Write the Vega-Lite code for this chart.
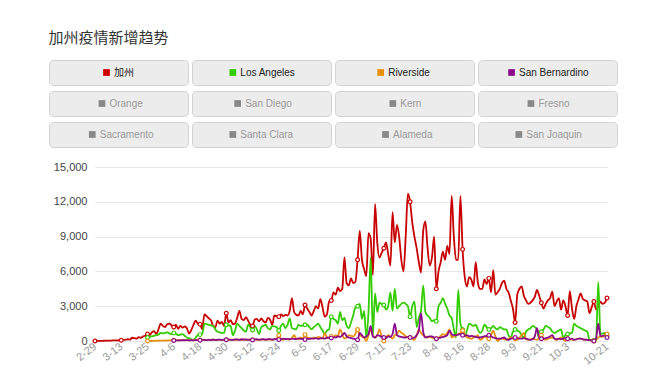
{
"$schema":"https://vega.github.io/schema/vega-lite/v6.json",
"background":"#ffffff",
"padding":{"left":48,"top":30,"right":10,"bottom":5},
"title":{"text":"加州疫情新增趋势","anchor":"start","font":"Noto Sans CJK SC","fontSize":15,"fontWeight":"normal","color":"#333333","offset":13},
"datasets":{
"buttons":[{"n":"加州"},{"n":"Los Angeles"},{"n":"Riverside"},{"n":"San Bernardino"},{"n":"Orange"},{"n":"San Diego"},{"n":"Kern"},{"n":"Fresno"},{"n":"Sacramento"},{"n":"Santa Clara"},{"n":"Alameda"},{"n":"San Joaquin"}],
"cases":[
{"d":"2-29","ca":0},{"d":"3-2","ca":5},{"d":"3-3","ca":10},{"d":"3-4","ca":15},{"d":"3-5","ca":20},{"d":"3-6","ca":25},{"d":"3-7","ca":40},{"d":"3-8","ca":30},{"d":"3-9","ca":50},{"d":"3-10","ca":60},{"d":"3-11","ca":45},{"d":"3-12","ca":70},{"d":"3-13","ca":60},{"d":"3-14","ca":90},{"d":"3-15","ca":110},{"d":"3-16","ca":150},{"d":"3-17","ca":120},{"d":"3-18","ca":280},{"d":"3-19","ca":250},{"d":"3-20","ca":200},{"d":"3-21","ca":330},{"d":"3-22","ca":280},{"d":"3-23","ca":400},{"d":"3-24","ca":450},
{"d":"3-25","ca":600,"la":300,"rv":0},{"d":"3-26","ca":500,"la":350,"rv":10},{"d":"3-27","ca":750,"la":400,"rv":20},{"d":"3-28","ca":850,"la":450,"rv":15},{"d":"3-29","ca":600,"la":500,"rv":30},{"d":"3-30","ca":1000,"la":550,"rv":20},{"d":"3-31","ca":1500,"la":700,"rv":40},{"d":"4-1","ca":1300,"la":650,"rv":30},{"d":"4-2","ca":1200,"la":700,"rv":50},{"d":"4-3","ca":1450,"la":750,"rv":40},{"d":"4-4","ca":1500,"la":650,"rv":60},{"d":"4-5","ca":1350,"la":600,"rv":50},
{"d":"4-6","ca":1200,"la":700,"rv":60,"sb":40},{"d":"4-7","ca":1400,"la":650,"rv":70,"sb":50},{"d":"4-8","ca":1050,"la":500,"rv":60,"sb":60},{"d":"4-9","ca":1300,"la":550,"rv":80,"sb":50},{"d":"4-10","ca":1150,"la":600,"rv":90,"sb":70},{"d":"4-11","ca":1250,"la":450,"rv":70,"sb":60},{"d":"4-12","ca":1100,"la":300,"rv":100,"sb":80},{"d":"4-13","ca":650,"la":250,"rv":60,"sb":50},{"d":"4-14","ca":950,"la":150,"rv":90,"sb":70},{"d":"4-15","ca":1400,"la":100,"rv":80,"sb":60},{"d":"4-16","ca":1750,"la":300,"rv":110,"sb":80},{"d":"4-17","ca":1500,"la":500,"rv":70,"sb":70},{"d":"4-18","ca":1450,"la":550,"rv":90,"sb":60},{"d":"4-19","ca":1000,"la":600,"rv":100,"sb":80},{"d":"4-20","ca":2300,"la":1500,"rv":120,"sb":90},{"d":"4-21","ca":2150,"la":1450,"rv":80,"sb":70},{"d":"4-22","ca":1950,"la":1400,"rv":110,"sb":100},{"d":"4-23","ca":1800,"la":1350,"rv":90,"sb":80},{"d":"4-24","ca":1300,"la":1300,"rv":130,"sb":110},{"d":"4-25","ca":1200,"la":1000,"rv":70,"sb":90},{"d":"4-26","ca":1750,"la":800,"rv":100,"sb":100},{"d":"4-27","ca":1500,"la":750,"rv":120,"sb":120},{"d":"4-28","ca":1650,"la":700,"rv":90,"sb":90},{"d":"4-29","ca":1300,"la":700,"rv":110,"sb":110},{"d":"4-30","ca":2400,"la":1400,"rv":100,"sb":100},
{"d":"5-1","ca":1600,"la":1350,"rv":80,"sb":130},{"d":"5-2","ca":1800,"la":1300,"rv":120,"sb":100},{"d":"5-3","ca":1450,"la":500,"rv":100,"sb":90},{"d":"5-4","ca":1500,"la":900,"rv":90,"sb":140},{"d":"5-5","ca":2000,"la":1500,"rv":130,"sb":120},{"d":"5-6","ca":2600,"la":1300,"rv":110,"sb":100},{"d":"5-7","ca":1900,"la":1100,"rv":80,"sb":150},{"d":"5-8","ca":1800,"la":900,"rv":150,"sb":120},{"d":"5-9","ca":2050,"la":800,"rv":100,"sb":130},{"d":"5-10","ca":1750,"la":1400,"rv":120,"sb":100},{"d":"5-11","ca":1400,"la":1200,"rv":90,"sb":140},{"d":"5-12","ca":1300,"la":950,"rv":110,"sb":90},{"d":"5-13","ca":1850,"la":1300,"rv":140,"sb":120},{"d":"5-14","ca":1900,"la":1000,"rv":100,"sb":150},{"d":"5-15","ca":1700,"la":600,"rv":80,"sb":110},{"d":"5-16","ca":1950,"la":1200,"rv":150,"sb":130},{"d":"5-17","ca":1700,"la":1300,"rv":120,"sb":160},{"d":"5-18","ca":1600,"la":1400,"rv":100,"sb":120},{"d":"5-19","ca":2000,"la":1100,"rv":130,"sb":140},{"d":"5-20","ca":1850,"la":1000,"rv":110,"sb":170},{"d":"5-21","ca":1400,"la":1300,"rv":90,"sb":130},{"d":"5-22","ca":2200,"la":1250,"rv":150,"sb":150},{"d":"5-23","ca":2150,"la":1200,"rv":200,"sb":180},{"d":"5-24","ca":2100,"la":900,"rv":500,"sb":120},{"d":"5-25","ca":2300,"la":1300,"rv":150,"sb":150},{"d":"5-26","ca":2150,"la":1500,"rv":100,"sb":200},{"d":"5-27","ca":2250,"la":1100,"rv":200,"sb":160},{"d":"5-28","ca":2200,"la":1400,"rv":150,"sb":180},{"d":"5-29","ca":2600,"la":1950,"rv":120,"sb":150},{"d":"5-30","ca":3700,"la":1100,"rv":250,"sb":200},{"d":"5-31","ca":2500,"la":1050,"rv":500,"sb":180},
{"d":"6-1","ca":2250,"la":1000,"rv":200,"sb":160},{"d":"6-2","ca":2200,"la":1400,"rv":150,"sb":220},{"d":"6-3","ca":2600,"la":1300,"rv":300,"sb":190},{"d":"6-4","ca":2300,"la":1350,"rv":200,"sb":170},{"d":"6-5","ca":3100,"la":1400,"rv":550,"sb":120},{"d":"6-6","ca":2800,"la":1400,"rv":300,"sb":200},{"d":"6-7","ca":2500,"la":1200,"rv":250,"sb":180},{"d":"6-8","ca":2200,"la":1000,"rv":200,"sb":220},{"d":"6-9","ca":2600,"la":1200,"rv":300,"sb":200},{"d":"6-10","ca":3000,"la":1350,"rv":250,"sb":250},{"d":"6-11","ca":2800,"la":1500,"rv":350,"sb":180},{"d":"6-12","ca":3600,"la":1200,"rv":300,"sb":220},{"d":"6-13","ca":2900,"la":900,"rv":200,"sb":250},{"d":"6-14","ca":2100,"la":600,"rv":700,"sb":200},{"d":"6-15","ca":2300,"la":900,"rv":300,"sb":280},{"d":"6-16","ca":3400,"la":1000,"rv":250,"sb":300},{"d":"6-17","ca":3500,"la":2100,"rv":400,"sb":250},{"d":"6-18","ca":4200,"la":1900,"rv":300,"sb":350},{"d":"6-19","ca":4000,"la":1800,"rv":500,"sb":300},{"d":"6-20","ca":4600,"la":1500,"rv":400,"sb":400},{"d":"6-21","ca":4300,"la":2500,"rv":1000,"sb":350},{"d":"6-22","ca":4500,"la":1800,"rv":600,"sb":500},{"d":"6-23","ca":7200,"la":2000,"rv":200,"sb":700},{"d":"6-24","ca":5000,"la":1300,"rv":300,"sb":400},{"d":"6-25","ca":4800,"la":1100,"rv":500,"sb":300},{"d":"6-26","ca":5400,"la":1600,"rv":450,"sb":250},{"d":"6-27","ca":5000,"la":2200,"rv":400,"sb":200},{"d":"6-28","ca":5100,"la":2900,"rv":600,"sb":150},{"d":"6-29","ca":7000,"la":3000,"rv":1000,"sb":100},{"d":"6-30","ca":9500,"la":3200,"rv":500,"sb":700},
{"d":"7-1","ca":7000,"la":1900,"rv":400,"sb":500},{"d":"7-2","ca":6200,"la":2600,"rv":300,"sb":300},{"d":"7-3","ca":5600,"la":300,"rv":0,"sb":400},{"d":"7-4","ca":9300,"la":2500,"rv":500,"sb":600},{"d":"7-5","ca":8800,"la":7200,"rv":1000,"sb":1300},{"d":"7-6","ca":5700,"la":500,"rv":400,"sb":400},{"d":"7-7","ca":11800,"la":4100,"rv":300,"sb":300},{"d":"7-8","ca":8500,"la":2500,"rv":500,"sb":500},{"d":"7-9","ca":7200,"la":3300,"rv":1000,"sb":450},{"d":"7-10","ca":7600,"la":3200,"rv":400,"sb":350},{"d":"7-11","ca":8000,"la":3100,"rv":0,"sb":300},{"d":"7-12","ca":8500,"la":2700,"rv":300,"sb":250},{"d":"7-13","ca":7500,"la":3000,"rv":500,"sb":400},{"d":"7-14","ca":6500,"la":4200,"rv":400,"sb":350},{"d":"7-15","ca":11100,"la":2600,"rv":200,"sb":600},{"d":"7-16","ca":8500,"la":4500,"rv":500,"sb":1500},{"d":"7-17","ca":10000,"la":2800,"rv":600,"sb":500},{"d":"7-18","ca":9000,"la":3000,"rv":900,"sb":400},{"d":"7-19","ca":7000,"la":3200,"rv":700,"sb":350},{"d":"7-20","ca":6000,"la":3300,"rv":600,"sb":300},{"d":"7-21","ca":9000,"la":3200,"rv":400,"sb":300},{"d":"7-22","ca":12700,"la":3000,"rv":350,"sb":350},{"d":"7-23","ca":12000,"la":2100,"rv":300,"sb":300},{"d":"7-24","ca":10200,"la":3000,"rv":200,"sb":250},{"d":"7-25","ca":9000,"la":3400,"rv":100,"sb":300},{"d":"7-26","ca":8000,"la":1200,"rv":500,"sb":500},{"d":"7-27","ca":6800,"la":2000,"rv":1000,"sb":900},{"d":"7-28","ca":5900,"la":2600,"rv":700,"sb":2400},{"d":"7-29","ca":9500,"la":4800,"rv":500,"sb":800},{"d":"7-30","ca":10300,"la":2500,"rv":400,"sb":300},{"d":"7-31","ca":8000,"la":2200,"rv":300,"sb":350},
{"d":"8-1","ca":6500,"la":2000,"rv":350,"sb":400},{"d":"8-2","ca":7200,"la":1700,"rv":300,"sb":400},{"d":"8-3","ca":9000,"la":1800,"rv":250,"sb":300},{"d":"8-4","ca":4500,"la":1700,"rv":200,"sb":200},{"d":"8-5","ca":6000,"la":3000,"rv":300,"sb":250},{"d":"8-6","ca":6800,"la":3300,"rv":450,"sb":300},{"d":"8-7","ca":7700,"la":3700,"rv":600,"sb":350},{"d":"8-8","ca":7000,"la":3200,"rv":500,"sb":400},{"d":"8-9","ca":8200,"la":2800,"rv":700,"sb":500},{"d":"8-10","ca":7500,"la":2200,"rv":1000,"sb":900},{"d":"8-11","ca":12500,"la":2000,"rv":300,"sb":600},{"d":"8-12","ca":9000,"la":1000,"rv":400,"sb":500},{"d":"8-13","ca":7000,"la":300,"rv":500,"sb":500},{"d":"8-14","ca":7000,"la":4400,"rv":600,"sb":550},{"d":"8-15","ca":12500,"la":1500,"rv":700,"sb":600},{"d":"8-16","ca":7900,"la":1000,"rv":900,"sb":500},{"d":"8-17","ca":5500,"la":400,"rv":600,"sb":450},{"d":"8-18","ca":4700,"la":900,"rv":300,"sb":500},{"d":"8-19","ca":5500,"la":1500,"rv":250,"sb":400},{"d":"8-20","ca":5300,"la":1400,"rv":200,"sb":450},{"d":"8-21","ca":4700,"la":1300,"rv":300,"sb":400},{"d":"8-22","ca":6800,"la":1400,"rv":400,"sb":350},{"d":"8-23","ca":5000,"la":1000,"rv":500,"sb":300},{"d":"8-24","ca":4500,"la":700,"rv":100,"sb":300},{"d":"8-25","ca":4500,"la":900,"rv":200,"sb":350},{"d":"8-26","ca":5300,"la":1400,"rv":400,"sb":400},{"d":"8-27","ca":4900,"la":1200,"rv":300,"sb":450},{"d":"8-28","ca":5400,"la":1000,"rv":200,"sb":500},{"d":"8-29","ca":4200,"la":1100,"rv":500,"sb":400},{"d":"8-30","ca":6100,"la":1300,"rv":900,"sb":300},{"d":"8-31","ca":4000,"la":1100,"rv":400,"sb":250},
{"d":"9-1","ca":4200,"la":1000,"rv":0,"sb":200},{"d":"9-2","ca":4500,"la":1200,"rv":150,"sb":200},{"d":"9-3","ca":5000,"la":1100,"rv":200,"sb":250},{"d":"9-4","ca":5200,"la":1000,"rv":150,"sb":300},{"d":"9-5","ca":4500,"la":1000,"rv":100,"sb":150},{"d":"9-6","ca":4200,"la":500,"rv":200,"sb":100},{"d":"9-7","ca":3500,"la":300,"rv":300,"sb":200},{"d":"9-8","ca":2800,"la":800,"rv":250,"sb":250},{"d":"9-9","ca":1600,"la":1000,"rv":200,"sb":300},{"d":"9-10","ca":4000,"la":900,"rv":100,"sb":250},{"d":"9-11","ca":4500,"la":800,"rv":300,"sb":200},{"d":"9-12","ca":4700,"la":500,"rv":500,"sb":200},{"d":"9-13","ca":3900,"la":300,"rv":700,"sb":250},{"d":"9-14","ca":3500,"la":800,"rv":150,"sb":200},{"d":"9-15","ca":3200,"la":1000,"rv":100,"sb":150},{"d":"9-16","ca":3300,"la":1100,"rv":150,"sb":100},{"d":"9-17","ca":3500,"la":1300,"rv":200,"sb":150},{"d":"9-18","ca":3800,"la":1200,"rv":150,"sb":400},{"d":"9-19","ca":4400,"la":1000,"rv":100,"sb":1100},{"d":"9-20","ca":3900,"la":200,"rv":300,"sb":300},{"d":"9-21","ca":3300,"la":800,"rv":500,"sb":200},{"d":"9-22","ca":2800,"la":1000,"rv":200,"sb":200},{"d":"9-23","ca":3200,"la":1300,"rv":100,"sb":250},{"d":"9-24","ca":3500,"la":1200,"rv":200,"sb":300},{"d":"9-25","ca":3700,"la":1100,"rv":250,"sb":400},{"d":"9-26","ca":4250,"la":800,"rv":300,"sb":500},{"d":"9-27","ca":3000,"la":700,"rv":200,"sb":200},{"d":"9-28","ca":3400,"la":800,"rv":100,"sb":150},{"d":"9-29","ca":3700,"la":900,"rv":200,"sb":200},{"d":"9-30","ca":2700,"la":1000,"rv":300,"sb":150},
{"d":"10-1","ca":3500,"la":300,"rv":150,"sb":200},{"d":"10-2","ca":3000,"la":500,"rv":0,"sb":250},{"d":"10-3","ca":2200,"la":600,"rv":200,"sb":200},{"d":"10-4","ca":4300,"la":650,"rv":150,"sb":150},{"d":"10-5","ca":2800,"la":700,"rv":120,"sb":200},{"d":"10-6","ca":1900,"la":1500,"rv":100,"sb":100},{"d":"10-7","ca":3000,"la":1300,"rv":150,"sb":150},{"d":"10-8","ca":3600,"la":1200,"rv":200,"sb":200},{"d":"10-9","ca":4100,"la":1100,"rv":200,"sb":200},{"d":"10-10","ca":3600,"la":1000,"rv":150,"sb":150},{"d":"10-11","ca":3500,"la":900,"rv":120,"sb":120},{"d":"10-12","ca":3400,"la":800,"rv":100,"sb":100},{"d":"10-13","ca":2400,"la":100,"rv":80,"sb":80},{"d":"10-14","ca":2900,"la":80,"rv":50,"sb":50},{"d":"10-15","ca":3400,"la":50,"rv":0,"sb":0},{"d":"10-16","ca":2700,"la":100,"rv":100,"sb":200},{"d":"10-17","ca":3000,"la":5100,"rv":300,"sb":1500},{"d":"10-18","ca":3400,"la":600,"rv":400,"sb":400},{"d":"10-19","ca":3200,"la":650,"rv":350,"sb":450},{"d":"10-20","ca":3300,"la":700,"rv":500,"sb":500},{"d":"10-21","ca":3700,"la":500,"rv":600,"sb":300}
]},
"vconcat":[
{
"data":{"name":"buttons"},
"transform":[
{"calculate":"datum.n == '加州' ? 20 : length(datum.n) * 4.85","as":"tw"},
{"calculate":"-(datum.tw + 11) / 2 + 3.5","as":"sx"},
{"calculate":"-(datum.tw + 11) / 2 + 11","as":"tx"}
],
"facet":{"field":"n","type":"nominal","sort":["加州","Los Angeles","Riverside","San Bernardino","Orange","San Diego","Kern","Fresno","Sacramento","Santa Clara","Alameda","San Joaquin"],"header":{"labels":false,"title":null,"labelExpr":"''","labelFontSize":1,"labelPadding":0}},
"columns":4,
"spacing":{"row":3,"column":2},
"spec":{
"width":139,"height":25,
"view":{"fill":"#ececec","stroke":"#d3d3d3","cornerRadius":4},
"layer":[
{"mark":{"type":"point","shape":"square","filled":true,"size":45,"opacity":1},
"encoding":{"x":{"field":"sx","type":"quantitative","scale":{"domain":[-69.5,69.5],"nice":false,"zero":false},"axis":null},
"color":{"field":"n","type":"nominal","scale":{"domain":["加州","Los Angeles","Riverside","San Bernardino","Orange","San Diego","Kern","Fresno","Sacramento","Santa Clara","Alameda","San Joaquin"],"range":["#cc0000","#33cc00","#e8900c","#8b0a8b","#888888","#888888","#888888","#888888","#888888","#888888","#888888","#888888"]},"legend":null}}},
{"mark":{"type":"text","align":"left","baseline":"middle","fontSize":10,"font":"Liberation Sans, Noto Sans CJK SC, sans-serif"},
"encoding":{"x":{"field":"tx","type":"quantitative","scale":{"domain":[-69.5,69.5],"nice":false,"zero":false},"axis":null},
"text":{"field":"n","type":"nominal"},
"color":{"condition":{"test":"indexof(['加州','Los Angeles','Riverside','San Bernardino'], datum.n) >= 0","value":"#222222"},"value":"#999999"}}}
]
}
},
{
"hconcat":[
{"width":46,"height":174,"data":{"values":[{}]},"mark":{"type":"point","opacity":0},"encoding":{}},
{
"width":512,"height":174,
"view":{"stroke":null},
"data":{"name":"cases"},
"transform":[{"fold":["ca","la","rv","sb"],"as":["s","v"]}],
"encoding":{
"x":{"field":"d","type":"ordinal","sort":null,"scale":{"type":"point","padding":0},
"axis":{"values":["2-29","3-13","3-25","4-6","4-18","4-30","5-12","5-24","6-5","6-17","6-29","7-11","7-23","8-4","8-16","8-28","9-9","9-21","10-3","10-21"],"labelAngle":-38,"labelAlign":"right","labelBaseline":"middle","labelColor":"#999999","labelFontSize":11,"labelFont":"Liberation Sans","ticks":false,"domain":false,"grid":false,"title":null,"labelPadding":4,"labelOverlap":false}},
"y":{"field":"v","type":"quantitative","scale":{"domain":[0,15000],"nice":false},
"axis":{"values":[0,3000,6000,9000,12000,15000],"format":",.0f","domain":false,"ticks":false,"gridColor":"#e6e6e6","labelColor":"#444444","labelFontSize":11,"labelFont":"Liberation Sans","labelPadding":8,"title":null}}
},
"layer":[
{"mark":{"type":"line","strokeWidth":1.8,"interpolate":"monotone"},
"encoding":{"color":{"field":"s","type":"nominal","scale":{"domain":["ca","la","rv","sb"],"range":["#c80000","#33cc00","#e8900c","#8b0a8b"]},"legend":null}}},
{"transform":[{"filter":{"field":"d","oneOf":["2-29","3-13","3-25","4-6","4-18","4-30","5-12","5-24","6-5","6-17","6-29","7-11","7-23","8-4","8-16","8-28","9-9","9-21","10-3","10-15","10-21"]}}],
"mark":{"type":"point","filled":true,"fill":"#ffffff","size":14,"strokeWidth":1.2,"opacity":1},
"encoding":{"stroke":{"field":"s","type":"nominal","scale":{"domain":["ca","la","rv","sb"],"range":["#c80000","#33cc00","#e8900c","#8b0a8b"]},"legend":null}}}
]
}
],
"spacing":0,
"bounds":"flush"
}
],
"spacing":13,
"resolve":{"scale":{"color":"independent","x":"independent","y":"independent"}},
"config":{"view":{"stroke":null},"header":{"labels":false,"title":null},"headerFacet":{"labels":false,"title":null}}
}
